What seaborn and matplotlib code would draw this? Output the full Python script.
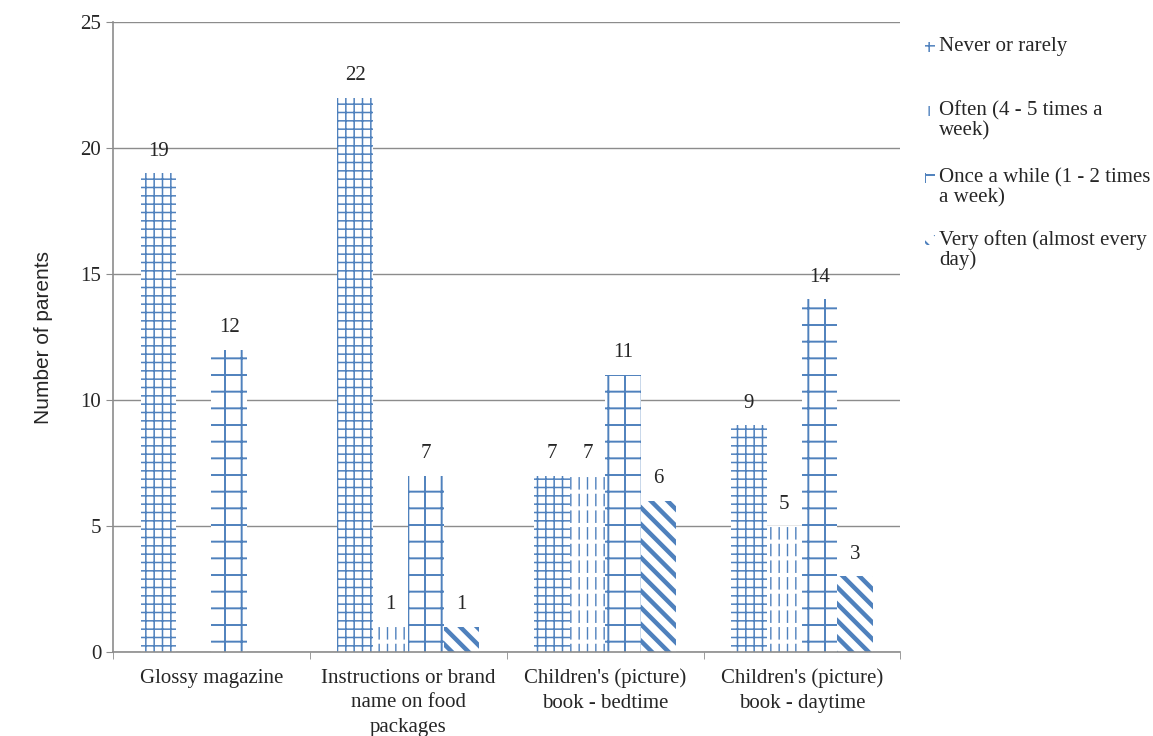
import pandas as pd
import matplotlib
matplotlib.use("Agg")
import matplotlib.pyplot as plt
from matplotlib.patches import Rectangle
import seaborn as sns

# data
categories = ["Glossy magazine",
              "Instructions or brand\nname on food\npackages",
              "Children's (picture)\nbook - bedtime",
              "Children's (picture)\nbook - daytime"]
series = ["Never or rarely",
          "Often (4 - 5 times a\nweek)",
          "Once a while (1 - 2 times\na week)",
          "Very often (almost every\nday)"]
never = [19, 22, 7, 9]
often = [0, 1, 7, 5]
once = [12, 7, 11, 14]
very_often = [0, 1, 6, 3]

rows = []
for s, vals in zip(series, [never, often, once, very_often]):
    for c, v in zip(categories, vals):
        rows.append({"category": c, "freq": s, "parents": v})
df = pd.DataFrame(rows)

sns.set_style("white")
plt.rcParams["font.family"] = ["Liberation Serif", "DejaVu Serif"]
plt.rcParams["hatch.linewidth"] = 1.3
blue = "#4F81BD"
plt.rcParams["hatch.color"] = blue

W, H = 1153, 736
fig = plt.figure(figsize=(W / 100, H / 100), dpi=100)
ax = fig.add_axes([0.098, 0.114, 0.683, 0.856])

sns.barplot(data=df, x="category", y="parents", hue="freq",
            order=categories, hue_order=series, width=0.72,
            palette=["white"] * 4, edgecolor=blue,
            linewidth=0, legend=False, ax=ax)

hatches = ["++", "||", "+", "\\\\"]
hatch_lw = [1.1, 1.0, 1.4, 3.2]
for i, (cont, h, hl) in enumerate(zip(ax.containers, hatches, hatch_lw)):
    for bar in cont:
        bar.set_hatch(h)
        bar.set_edgecolor(blue)
        bar.set_facecolor("white")
        if hasattr(bar, "set_hatch_linewidth"):
            bar.set_hatch_linewidth(hl)
        if i == 1 and bar.get_height() > 0:
            # white horizontal hatch on top breaks the lines into dashes
            gap = Rectangle(bar.get_xy(), bar.get_width(), bar.get_height(),
                            facecolor="none", edgecolor="white", linewidth=0,
                            hatch="-", zorder=bar.get_zorder() + 0.1)
            if hasattr(gap, "set_hatch_linewidth"):
                gap.set_hatch_linewidth(3.0)
            ax.add_patch(gap)
    labels = [f"{int(b.get_height())}" if b.get_height() > 0 else "" for b in cont]
    ax.bar_label(cont, labels=labels, padding=9, fontsize=15)

ax.set_ylim(0, 25)
ax.set_xlim(-0.5, 3.5)
ax.set_yticks([0, 5, 10, 15, 20, 25])
ax.yaxis.grid(True, color="#8c8c8c", linewidth=1)
ax.set_axisbelow(True)
for side in ["top", "right"]:
    ax.spines[side].set_visible(False)
for side in ["left", "bottom"]:
    ax.spines[side].set_color("#8c8c8c")
    ax.spines[side].set_linewidth(1.2)

ax.tick_params(axis="y", which="major", length=5, color="#8c8c8c", labelsize=15, left=True)
ax.tick_params(axis="x", which="major", length=0, labelsize=15, pad=12)
for t in ax.get_xticklabels():
    t.set_linespacing(1.4)
ax.set_xticks([-0.5, 0.5, 1.5, 2.5, 3.5], minor=True)
ax.tick_params(axis="x", which="minor", length=5, color="#8c8c8c", bottom=True)
ax.set_xlabel("")
ax.set_ylabel("Number of parents", fontsize=15, family=["Liberation Sans", "DejaVu Sans"], labelpad=20)

# legend drawn by hand: Excel style, marker next to first line of each entry
leg_tops = [37, 101, 168, 230]
for s, h, hl, top in zip(series, hatches, hatch_lw, leg_tops):
    fig.text(939 / W, 1 - top / H, s, fontsize=15, va="top", ha="left", linespacing=1.05)
    r = Rectangle((925 / W, 1 - (top + 15) / H), 10 / W, 10 / H,
                  transform=fig.transFigure, facecolor="white", edgecolor=blue,
                  linewidth=0, hatch=h)
    if hasattr(r, "set_hatch_linewidth"):
        r.set_hatch_linewidth(min(hl, 1.5))
    fig.add_artist(r)

fig.savefig("out.png", dpi=100)
